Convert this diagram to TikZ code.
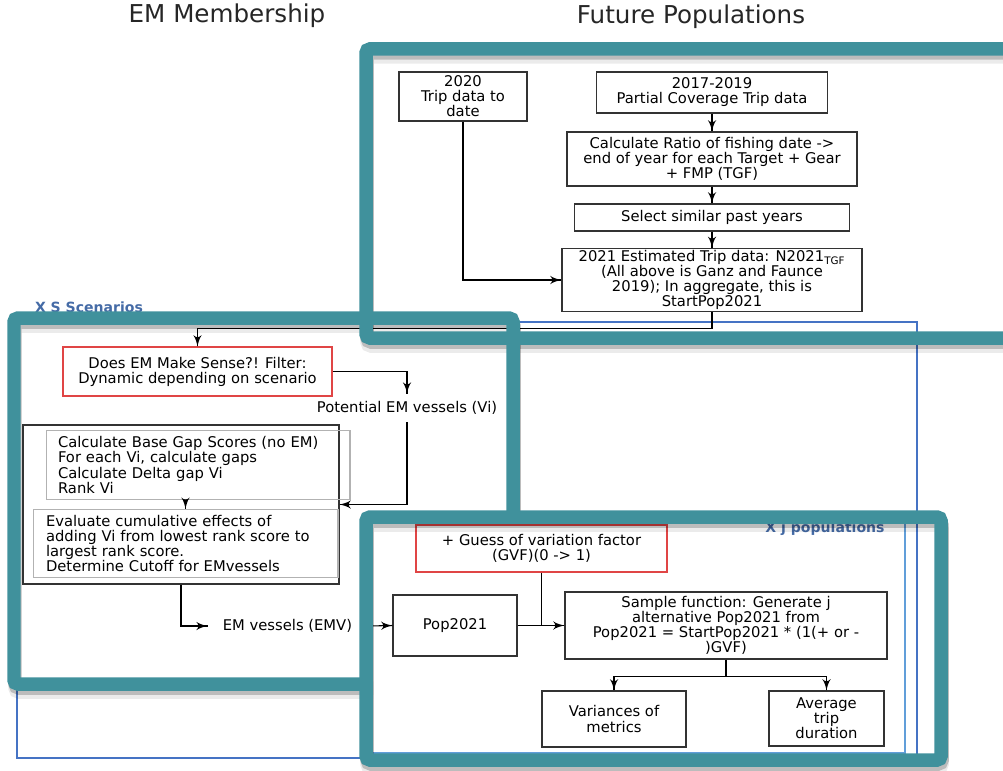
\documentclass[tikz,border=0pt]{standalone}
\usepackage{fontspec}
\setmainfont{DejaVu Sans}
\usepackage{xcolor}
\usetikzlibrary{decorations.markings}
\usetikzlibrary{arrows}
\tikzset{arr/.style = {line width=0.6pt,
                      decoration={markings,
                                  mark=at position 1 with {\arrow[scale=1.4]{latex'}}},
                      postaction={decorate}}}
\tikzset{box/.style = {draw=black!80, line width=0.7pt, align=center, inner sep=1pt}}
\tikzset{rbox/.style = {box, draw=mred}}
\tikzset{gbox/.style = {draw=black!30, line width=0.6pt, align=left}}
\tikzset{frame/.style = {draw=mteal, line width=0.27cm, rounded corners=0.08cm}}
\tikzset{lbl/.style = {font=\bfseries\fontsize{8}{9}\selectfont, text=mtext}}
\definecolor{mteal}{rgb}{0.25, 0.57, 0.61}
\definecolor{mblue}{rgb}{0.27, 0.45, 0.77}
\definecolor{lblue}{rgb}{0.38, 0.62, 0.85}
\definecolor{mred}{rgb}{0.88, 0.27, 0.27}
\definecolor{mtext}{rgb}{0.27, 0.42, 0.65}

\begin{document}
\begin{tikzpicture}[x=0.02cm, y=-0.02cm, every node/.style={font=\fontsize{8.4}{8.6}\selectfont}]
    \useasboundingbox (0, 0) rectangle (1003, 770);
    \clip (0, 0) rectangle (1003, 770);

    \node [font=\fontsize{14}{16}\selectfont, text=black!85] (tem) at (227, 16) {EM Membership};
    \node [font=\fontsize{14}{16}\selectfont, text=black!85] (tfp) at (691, 17) {Future Populations};

    \draw [mblue, line width=1.2pt] (17, 322) rectangle (917, 758);
    \draw [lblue, line width=1.2pt] (372, 520) rectangle (905, 753);
    \node [lbl] (xs) at (89, 307) {X S Scenarios};
    \node [lbl] (xj) at (825, 529) {X j populations};

    \node [box, minimum width=2.56cm, minimum height=0.98cm] (y2020) at (463, 96.5) {2020\\Trip data to\\date};
    \node [box, minimum width=4.62cm, minimum height=0.82cm] (y1719) at (712, 92.5) {2017-2019\\Partial Coverage Trip data};
    \node [box, minimum width=5.8cm, minimum height=1.08cm] (ratio) at (712, 159) {Calculate Ratio of fishing date ->\\end of year for each Target + Gear\\+ FMP (TGF)};
    \node [box, minimum width=5.5cm, minimum height=0.54cm] (sel) at (712, 217.5) {Select similar past years};
    \node [box, minimum width=6cm, minimum height=1.24cm] (est) at (712, 280) {2021 Estimated Trip data: N2021\textsubscript{TGF}\\(All above is Ganz and Faunce\\2019); In aggregate, this is\\StartPop2021};

    \draw [arr] (y1719.south) -- (ratio.north);
    \draw [arr] (ratio.south) -- (sel.north);
    \draw [arr] (sel.south) -- (est.north);
    \draw [arr] (y2020.south) |- (est.west);

    \node [rbox, minimum width=5.38cm, minimum height=0.98cm] (does) at (197.5, 371.5) {Does EM Make Sense?! Filter:\\Dynamic depending on scenario};
    \node [inner ysep=0.15cm] (pot) at (407, 408) {Potential EM vessels (Vi)};
    \node [box, minimum width=6.32cm, minimum height=3.18cm] (vbox) at (181, 504.5) {};
    \node [gbox, inner xsep=0.24cm, text width=5.6cm, minimum height=1.28cm] (gap) at (198, 465) {Calculate Base Gap Scores (no EM)\\For each Vi, calculate gaps\\Calculate Delta gap Vi\\Rank Vi};
    \node [gbox, inner xsep=0.26cm, text width=5.58cm, minimum height=1.3cm] (eval) at (185.5, 543.5) {Evaluate cumulative effects of\\adding Vi from lowest rank score to\\largest rank score.\\Determine Cutoff for EMvessels};
    \node [inner xsep=0.3cm] (emv) at (287.5, 626) {EM vessels (EMV)};

    \draw [arr] (est.south) -- ++(0, 16) -| (does.north);
    \draw [arr] (does.east) -| (pot.north);
    \draw [arr] (pot.south) |- (vbox.east);
    \draw [arr] (eval.north |- gap.south) -- (eval.north);
    \draw [arr] (vbox.south) |- (emv.west);

    \node [rbox, minimum width=5.02cm, minimum height=0.94cm] (guess) at (541.5, 548.5) {+ Guess of variation factor\\(GVF)(0 -> 1)};
    \node [box, minimum width=2.48cm, minimum height=1.22cm] (pop) at (455, 625.5) {Pop2021};
    \node [box, minimum width=6.44cm, minimum height=1.34cm] (smp) at (726, 625.5) {Sample function: Generate j\\alternative Pop2021 from\\Pop2021 = StartPop2021 * (1(+ or -\\)GVF)};
    \node [box, minimum width=2.88cm, minimum height=1.12cm] (var) at (614, 719) {Variances of\\metrics};
    \node [box, minimum width=2.3cm, minimum height=1.1cm] (avg) at (826.5, 718.5) {Average\\trip\\duration};

    \draw [arr] (emv.east) -- (pop.west);
    \draw [arr] (pop.east) -- (smp.west);
    \draw [line width=0.6pt] (guess.south) -- (guess.south |- pop.east);
    \draw [arr] (smp.south) -- ++(0, 17) -| (var.north);
    \draw [arr] (smp.south) -- ++(0, 17) -| (avg.north);

    \foreach \op/\dy in {0.2/4, 0.08/8} {
      \draw [frame, draw=black, opacity=\op, shift={(1, \dy)}] (366, 49) rectangle (1040, 338);
      \draw [frame, draw=black, opacity=\op, shift={(1, \dy)}] (372, 684) -- (14, 684) -- (14, 318) -- (513, 318) -- (513, 515);
      \draw [frame, draw=black, opacity=\op, shift={(1, \dy)}] (366, 517) rectangle (941, 760);
    }
    \draw [frame] (366, 49) rectangle (1040, 338);
    \draw [frame] (372, 684) -- (14, 684) -- (14, 318) -- (513, 318) -- (513, 515);
    \draw [frame] (366, 517) rectangle (941, 760);
\end{tikzpicture}
\end{document}
